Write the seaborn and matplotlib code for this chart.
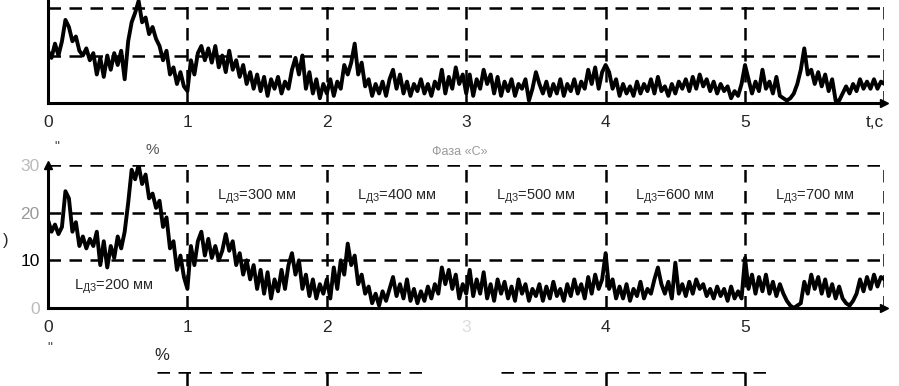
import numpy as np
import pandas as pd
import matplotlib
matplotlib.use("Agg")
import matplotlib.pyplot as plt
import seaborn as sns

sns.set_style("white")
plt.rcParams['font.family'] = ['Liberation Sans', 'DejaVu Sans']
plt.rcParams['mathtext.fontset'] = 'custom'
plt.rcParams['mathtext.rm'] = 'Liberation Sans'
plt.rcParams['mathtext.it'] = 'Liberation Sans'

# ---------------- data ----------------
time_step = 0.025
x_ticks = [0, 1, 2, 3, 4, 5]
y_ticks = [0, 10, 20, 30]
zone_labels = ["200", "300", "400", "500", "600", "700"]

top_s0 = [11, 9.5, 12.5, 10, 13, 17.5, 16, 13, 14, 11, 10, 11.5, 9, 10.5, 6, 9.5, 5.5, 10, 7, 10.5,
          8, 11, 5, 13, 17, 19, 21.5, 17, 18, 14.5, 16, 13.5, 12, 9, 11, 6, 7.5, 4, 6.5, 3.5]
top_s1 = [2.5, 9, 6, 10.5, 12, 9, 11.5, 8.5, 12, 7.5, 10, 6.5, 11, 7, 9, 5.5, 8, 4, 6.5, 3,
          6, 2.5, 5.5, 1.5, 5, 3, 5.5, 2, 4.5, 3, 7, 9.5, 6, 10, 3, 6.5, 2, 5, 1, 4]
top_s2 = [2, 5, 1.5, 4.5, 3, 8, 6, 8.5, 12.5, 6, 8.5, 3.5, 5, 1.5, 4, 2, 4.5, 1.5, 5, 7,
          3, 6, 2, 4.5, 1.5, 4, 2.5, 5, 2, 4, 1.5, 4.5, 3, 7, 2, 5.5, 3, 7.5, 4, 6]
top_s3 = [2, 6, 1.5, 5, 3, 7, 4, 6, 2, 5.5, 1.5, 4.5, 2.5, 5, 1.5, 4, 3, 5, 0.5, 3,
          6.5, 4, 2, 4.5, 1.5, 4, 2, 5, 1.5, 4, 2.5, 5, 2, 4.5, 3, 7, 4, 7.5, 3, 6.5]
top_s4 = [8, 6.5, 3, 5, 1.5, 4, 2, 3.5, 1.5, 4.5, 2, 4, 2.5, 5, 2, 5.5, 2.5, 3.5, 1.5, 4,
          2, 4.5, 3, 5, 2.5, 5.5, 3, 6, 3.5, 5, 2.5, 4.5, 2, 4, 2.5, 3.5, 1, 2.5, 1.5, 4]
top_s5 = [8, 5, 2, 4.5, 2.5, 7, 3, 4.5, 2, 5.5, 1.5, 1, 0.5, 1, 2, 4, 7, 11.5, 6, 7,
          4, 6.5, 3.5, 6, 2.5, 5, 0.5, 0.5, 2, 3.5, 2, 4, 2.5, 5, 3, 4.5, 3, 5, 3, 4.5, 4]

mid_s0 = [18.5, 16, 17.5, 15.5, 17, 24.5, 23, 16, 18, 13, 15, 12.5, 14.5, 13, 16, 9, 14, 8.5, 13, 10.5,
          15, 12.5, 16, 22, 29, 27, 30, 26, 28, 23, 24, 21, 22.5, 17, 19, 12.5, 14, 8, 11, 6.5]
mid_s1 = [4, 13, 9, 14, 16, 11, 14.5, 10.5, 13, 10, 12, 15.5, 12, 14, 9, 11.5, 7, 10, 6, 9,
          4, 8, 3, 7.5, 2, 6, 3.5, 8, 4, 9, 11.5, 7, 10, 4, 7, 2.5, 6, 2, 5, 3]
mid_s2 = [6, 2, 8.5, 4, 10, 7, 13.5, 9, 11, 5, 7, 3, 4.5, 1, 3, 0.5, 3.5, 1.5, 4, 6.5,
          2.5, 5, 2, 6, 1.5, 4, 1, 3.5, 1.5, 4.5, 2, 5, 3, 8.5, 5, 8, 4, 7, 2, 5]
mid_s3 = [3, 8, 2.5, 6, 3, 7.5, 2, 5, 1.5, 6, 3, 5.5, 2, 4.5, 1.5, 6, 3, 5, 1.5, 4,
          2.5, 5, 1.5, 4.5, 2, 5.5, 2.5, 4, 1.5, 5, 2.5, 6, 3, 5, 2, 6.5, 3, 7, 4, 6]
mid_s4 = [11.5, 4, 6, 2, 4.5, 2, 5, 1.5, 4, 2.5, 5.5, 2, 4, 3, 6, 8.5, 5, 3, 5.5, 2,
          9.5, 3, 5, 2.5, 5.5, 3, 6, 4, 5, 2.5, 4, 2, 4.5, 2.5, 4, 1.5, 4.5, 2, 3.5, 2]
mid_s5 = [10.5, 4, 7, 3, 6.5, 3.5, 7, 3, 5.5, 2.5, 5, 3, 1.5, 0.5, 0, 0.5, 1, 5.5, 3, 7,
          4, 6.5, 3, 6, 2.5, 5, 2, 4.5, 2, 1, 0.5, 1.5, 3, 6, 3.5, 6.5, 4, 7, 4.5, 6.5, 6]

top_vals = top_s0 + top_s1 + top_s2 + top_s3 + top_s4 + top_s5
mid_vals = mid_s0 + mid_s1 + mid_s2 + mid_s3 + mid_s4 + mid_s5
time = np.arange(len(top_vals)) * time_step
df_top = pd.DataFrame({"t": time, "v": top_vals})
df_mid = pd.DataFrame({"t": time, "v": mid_vals})

# ---------------- figure ----------------
fig = plt.figure(figsize=(8.99, 3.86), dpi=100)
L, W = 0.0534, 0.9304
ax_top = fig.add_axes([L, 0.7332, W, 0.369])
ax_mid = fig.add_axes([L, 0.2021, W, 0.3705])
ax_bot = fig.add_axes([L, -0.334, W, 0.3705])

DASH = (0, (5.0, 3.4))
GLW = 1.8


def frame(ax, grid=True):
    ax.set_xlim(0, 6)
    ax.set_ylim(0, 30)
    for s in ["top", "right"]:
        ax.spines[s].set_visible(False)
    for s in ["left", "bottom"]:
        ax.spines[s].set_linewidth(2.2)
        ax.spines[s].set_color("black")
    if grid:
        for y in [10, 20, 30]:
            ax.axhline(y, color="black", lw=GLW, ls=DASH, zorder=1)
        for x in [1, 2, 3, 4, 5, 6]:
            ax.axvline(x, color="black", lw=GLW, ls=DASH, zorder=1)
    ax.tick_params(length=0, labelsize=12.5, pad=9)
    ax.set_xlabel("")
    ax.set_ylabel("")
    ax.plot(1.0, 0, marker=">", color="black", markersize=6,
            transform=ax.transAxes, clip_on=False, zorder=5)


sns.lineplot(data=df_top, x="t", y="v", ax=ax_top, color="black", lw=2.8, legend=False)
frame(ax_top)
ax_top.set_xticks(x_ticks)
ax_top.set_xticklabels([str(v) for v in x_ticks])
ax_top.set_yticks([])
ax_top.text(5.93, -2.6, "t,c", fontsize=12.5, ha="center", va="top")

sns.lineplot(data=df_mid, x="t", y="v", ax=ax_mid, color="black", lw=2.8, legend=False)
frame(ax_mid)
ax_mid.set_xticks(x_ticks)
ax_mid.set_xticklabels([str(v) for v in x_ticks])
ax_mid.get_xticklabels()[3].set_color("#dddddd")
ax_mid.set_yticks(y_ticks)
ax_mid.set_yticklabels([str(v) for v in y_ticks])
ax_mid.tick_params(axis="y", pad=6)
for lab, c in zip(ax_mid.get_yticklabels(), ["#bbbbbb", "black", "#999999", "#bbbbbb"]):
    lab.set_color(c)
ax_mid.plot(0, 1.0, marker="^", color="black", markersize=6,
            transform=ax_mid.transAxes, clip_on=False, zorder=5)

# zone labels
ax_mid.text(0.47, 4.4, r"L$_{\mathrm{ДЗ}}$=" + zone_labels[0] + " мм", fontsize=10.5,
            ha="center", va="center")
for i, z in enumerate(zone_labels[1:]):
    ax_mid.text(i + 1.5, 23.3, r"L$_{\mathrm{ДЗ}}$=" + z + " мм", fontsize=10.5,
                ha="center", va="center")

# bottom (cropped) panel
frame(ax_bot, grid=False)
ax_bot.spines["left"].set_visible(False)
ax_bot.spines["bottom"].set_visible(False)
ax_bot.lines[-1].set_visible(False)
ax_bot.set_xticks([])
ax_bot.set_yticks([])
ax_bot.hlines(30, 0.78, 2.74, color="black", lw=GLW, linestyles=DASH)
ax_bot.hlines(30, 3.25, 5.18, color="black", lw=GLW, linestyles=DASH)
for x in [1, 2, 4, 5]:
    ax_bot.vlines(x, 24, 30, color="black", lw=GLW)

# scattered text fragments of the scan
fig.text(460 / 899, 1 - 152 / 386, "Фаза «С»", fontsize=9, color="#9a9a9a",
         ha="center", va="center")
fig.text(152 / 899, 1 - 150 / 386, "%", fontsize=11, color="#555555", ha="center", va="center")
fig.text(57 / 899, 1 - 147 / 386, "\"", fontsize=10, color="#444444", ha="center", va="center")
fig.text(162 / 899, 1 - 355 / 386, "%", fontsize=12, ha="center", va="center")
fig.text(50 / 899, 1 - 348 / 386, "\"", fontsize=10, color="#444444", ha="center", va="center")
fig.text(6 / 899, 1 - 240 / 386, ")", fontsize=12, ha="center", va="center")

fig.savefig("out.png", dpi=100)
